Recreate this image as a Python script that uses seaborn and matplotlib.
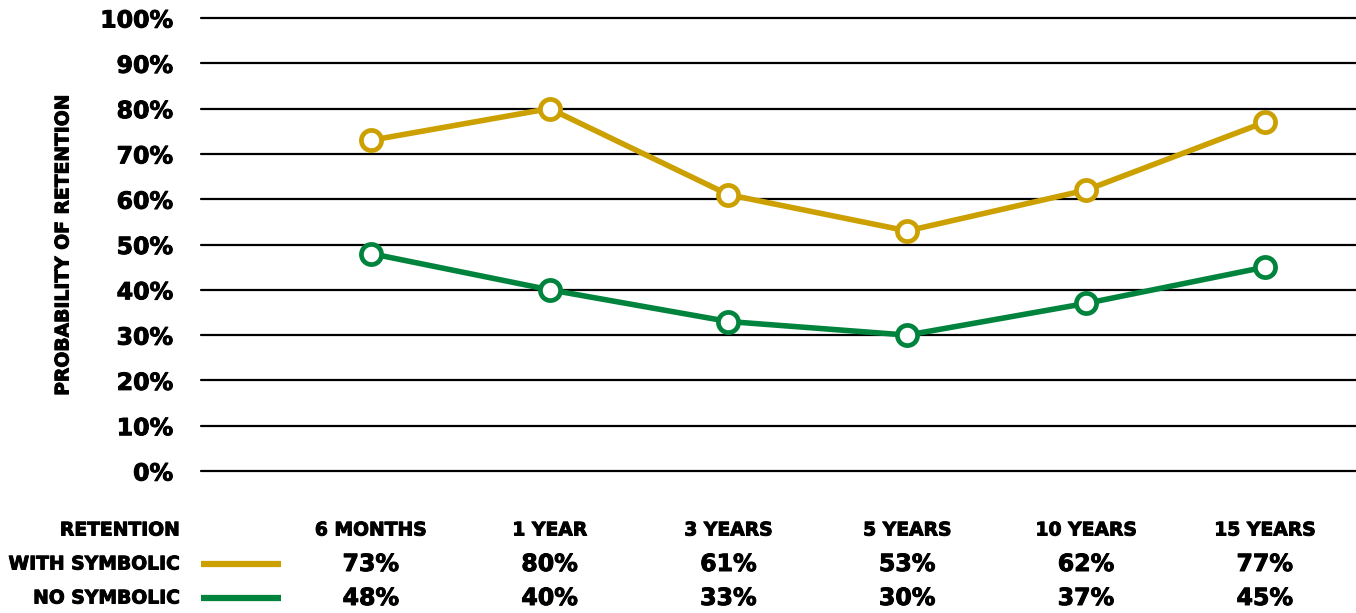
import matplotlib
matplotlib.use("Agg")
import matplotlib.pyplot as plt
import matplotlib.transforms as mtransforms
import matplotlib.patheffects as pe
from matplotlib.lines import Line2D
import pandas as pd
import seaborn as sns

# Retention periods and probabilities (percent)
periods = ["6 MONTHS", "1 YEAR", "3 YEARS", "5 YEARS", "10 YEARS", "15 YEARS"]
with_symbolic = [73, 80, 61, 53, 62, 77]
no_symbolic = [48, 40, 33, 30, 37, 45]
series_names = ["WITH SYMBOLIC", "NO SYMBOLIC"]
y_ticks = [0, 10, 20, 30, 40, 50, 60, 70, 80, 90, 100]

GOLD = "#CBA000"
GREEN = "#00843D"
colors = [GOLD, GREEN]

sns.set_theme(style="white")
plt.rcParams["font.family"] = ["DejaVu Sans"]
plt.rcParams["font.weight"] = "bold"
plt.rcParams["text.color"] = "black"
plt.rcParams["ytick.color"] = "black"
plt.rcParams["ytick.labelcolor"] = "black"

# a thin outline makes the bold type look heavier
heavy = [pe.withStroke(linewidth=0.7, foreground="black")]

W, H = 1356, 613
fig = plt.figure(figsize=(W / 100, H / 100), dpi=100)
ax = fig.add_axes([201 / W, (H - 471) / H, (W - 201) / W, 453 / H])

df = pd.DataFrame({
    "period": list(range(len(periods))) * 2,
    "value": with_symbolic + no_symbolic,
    "series": [series_names[0]] * len(periods) + [series_names[1]] * len(periods),
})

for name, col in zip(series_names, colors):
    sub = df[df["series"] == name]
    sns.lineplot(data=sub, x="period", y="value", ax=ax, color=col,
                 linewidth=4.0, marker="o", markersize=14.5,
                 markerfacecolor="white", markeredgecolor=col,
                 markeredgewidth=3.4, legend=False, zorder=3)

ax.set_ylim(0, 100)
ax.set_xlim(-0.95, 5.51)
ax.set_yticks(y_ticks)
ax.set_yticklabels([f"{v}%" for v in y_ticks], fontsize=17, fontweight="bold",
                   color="black")
for t in ax.get_yticklabels():
    t.set_path_effects(heavy)
ax.tick_params(axis="y", length=0, pad=20)
ax.set_xticks([])
ax.set_xlabel("")
ax.set_ylabel("")
ax.yaxis.grid(True, color="black", linewidth=1.6)
for gl in ax.get_ygridlines():
    gl.set_clip_on(False)
ax.xaxis.grid(False)
ax.set_axisbelow(True)
for s in ax.spines.values():
    s.set_visible(False)

# Rotated axis title
fig.text(63 / W, 1 - 245 / H, "PROBABILITY OF RETENTION", rotation=90,
         ha="center", va="center", fontsize=13.5, fontweight="bold",
         path_effects=heavy)

# Data table beneath the chart
trans = mtransforms.blended_transform_factory(ax.transData, fig.transFigure)
row_y = [1 - 530 / H, 1 - 564 / H, 1 - 598 / H]
label_fs = 13.5
value_fs = 17

fig.text(180 / W, row_y[0], "RETENTION", ha="right", va="center",
         fontsize=label_fs, fontweight="bold", path_effects=heavy)
for name, col, y in zip(series_names, colors, row_y[1:]):
    fig.text(180 / W, y, name, ha="right", va="center",
             fontsize=label_fs, fontweight="bold", path_effects=heavy)
    fig.add_artist(Line2D([201 / W, 281 / W], [y, y], color=col,
                          linewidth=4.5, solid_capstyle="butt",
                          transform=fig.transFigure))

for i, p in enumerate(periods):
    ax.text(i, row_y[0], p, transform=trans, ha="center", va="center",
            fontsize=label_fs, fontweight="bold", clip_on=False,
            path_effects=heavy)
    ax.text(i, row_y[1], f"{with_symbolic[i]}%", transform=trans,
            ha="center", va="center", fontsize=value_fs, fontweight="bold",
            clip_on=False, path_effects=heavy)
    ax.text(i, row_y[2], f"{no_symbolic[i]}%", transform=trans,
            ha="center", va="center", fontsize=value_fs, fontweight="bold",
            clip_on=False, path_effects=heavy)

fig.savefig("out.png", dpi=100, facecolor="white")
